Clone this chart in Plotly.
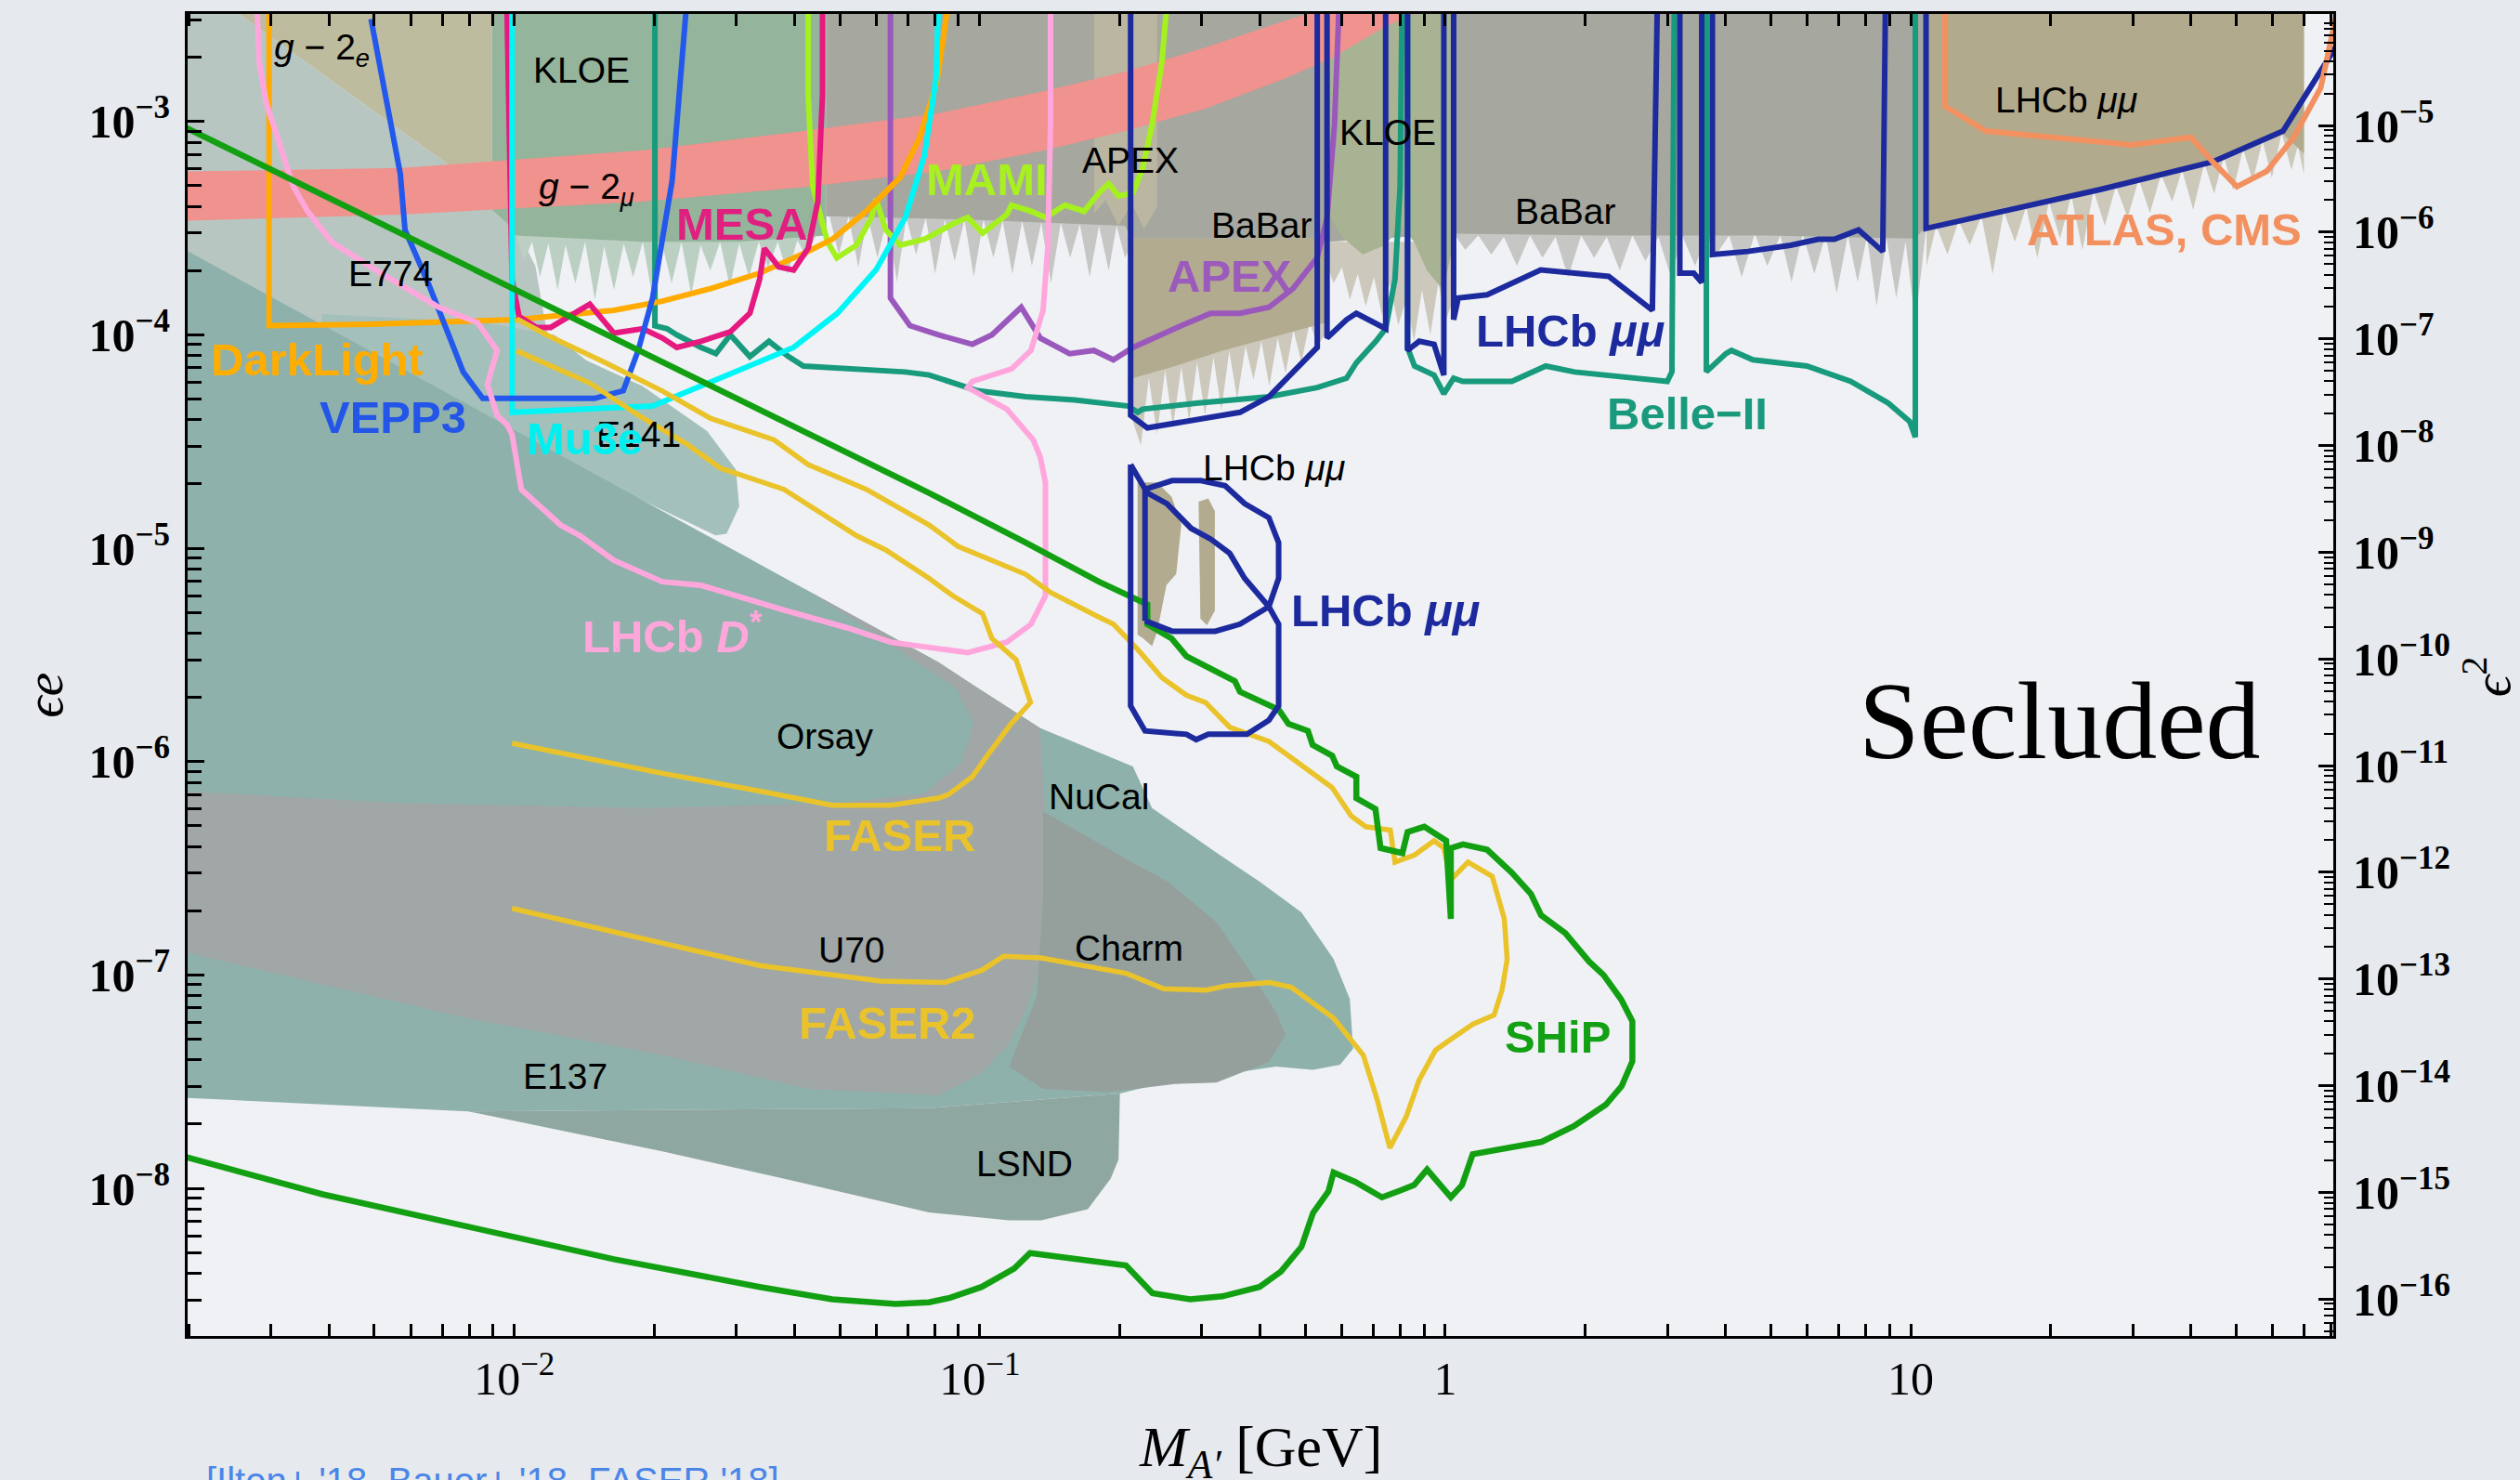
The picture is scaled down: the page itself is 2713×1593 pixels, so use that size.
import numpy as np
import plotly.graph_objects as go

# ---------------------------------------------------------------- geometry
FIG_W, FIG_H = 2713, 1593
X_RANGE = [-2.702, 1.908]            # log10(M_A' / GeV)
Y_RANGE = [-8.692, -2.496]           # log10(eps * e)
LOG10_E = np.log10(np.sqrt(4 * np.pi / 137.036))
Y2_RANGE = [2 * (Y_RANGE[0] - LOG10_E), 2 * (Y_RANGE[1] - LOG10_E)]   # log10(eps^2)

# ------------------------------------------------ excluded regions (log10 m, log10 eps*e)
e774_lm = [-2.75, -2.621, -2.142, -2.007, -1.955, -1.931, -1.914, -2.75]
e774_le = [-2.45, -2.45, -3.203, -3.451, -3.677, -3.977, -4.053, -4.053]

g2e_lm = [-2.621, -2.048, -2.048, -2.142]
g2e_le = [-2.45, -2.45, -3.414, -3.203]

# KLOE: ragged lower edge and solid core
kloe_edge_lm = [-2.048, -2.048, -2.017, -1.997, -1.979, -1.962, -1.945, -1.927, -1.907, -1.890,
                -1.869, -1.848, -1.827, -1.807, -1.786, -1.765, -1.745, -1.724, -1.703, -1.682,
                -1.662, -1.641, -1.620, -1.600, -1.579, -1.558, -1.537, -1.517, -1.496, -1.475,
                -1.455, -1.434, -1.413, -1.392, -1.372, -1.351, -1.330, -1.330]
kloe_edge_le = [-2.45, -3.414, -3.474, -3.534, -3.654, -3.564, -3.729, -3.571, -3.789, -3.579,
                -3.759, -3.564, -3.835, -3.586, -3.789, -3.571, -3.729, -3.564, -3.827, -3.579,
                -3.759, -3.564, -3.812, -3.579, -3.699, -3.564, -3.774, -3.571, -3.729, -3.564,
                -3.684, -3.564, -3.714, -3.556, -3.639, -3.526, -3.489, -2.45]
kloe_core_lm = [-2.048, -2.048, -2.017, -1.997, -1.724, -1.517, -1.330, -1.330]
kloe_core_le = [-2.45, -3.414, -3.474, -3.534, -3.564, -3.564, -3.534, -2.45]

# BaBar: ragged lower edge and solid core
babar_edge_lm = [-1.330, 1.034, 1.034, 1.010, 0.989, 0.969, 0.948, 0.927, 0.906, 0.886, 0.865,
                 0.841, 0.817, 0.793, 0.768, 0.744, 0.720, 0.692, 0.665, 0.637, 0.610, 0.582,
                 0.561, 0.537, 0.509, 0.485, 0.458, 0.430, 0.402, 0.375, 0.347, 0.320, 0.292,
                 0.264, 0.237, 0.209, 0.182, 0.154, 0.126, 0.099, 0.071, 0.043, 0.019, -0.253,
                 -0.671, -0.688, -0.706, -0.723, -0.744, -0.764, -0.785, -0.806, -0.826, -0.847,
                 -0.868, -0.888, -0.909, -0.930, -0.951, -0.971, -0.992, -1.013, -1.033, -1.054,
                 -1.075, -1.096, -1.116, -1.137, -1.158, -1.178, -1.199, -1.220, -1.241, -1.261,
                 -1.282, -1.303, -1.323, -1.330]
babar_edge_le = [-2.45, -2.45, -3.489, -3.940, -3.564, -3.827, -3.549, -3.865, -3.541, -3.752, -3.534,
                 -3.805, -3.534, -3.714, -3.526, -3.752, -3.534, -3.677, -3.526, -3.729, -3.534, -3.624,
                 -3.534, -3.677, -3.534, -3.729, -3.541, -3.654, -3.534, -3.699, -3.541, -3.639, -3.534,
                 -3.729, -3.541, -3.639, -3.534, -3.677, -3.541, -3.624, -3.534, -3.602, -3.526, -3.564,
                 -3.564, -3.639, -3.489, -3.699, -3.489, -3.729, -3.481, -3.639, -3.474, -3.759,
                 -3.474, -3.677, -3.466, -3.714, -3.466, -3.639, -3.459, -3.729, -3.459, -3.654,
                 -3.459, -3.714, -3.451, -3.624, -3.451, -3.752, -3.451, -3.639, -3.444, -3.684,
                 -3.444, -3.624, -3.444, -3.444]
babar_core_lm = [-1.330, 1.034, 1.034, 1.010, 0.692, 0.347, 0.019, -0.253, -0.671, -0.688, -1.033, -1.330]
babar_core_le = [-2.45, -2.45, -3.489, -3.549, -3.534, -3.534, -3.526, -3.564, -3.564, -3.489, -3.459, -3.444]

# ragged tan edge under the phi-region KLOE band
phi_tan_lm = [-0.253, 0.019, 0.019, 0.002, -0.015, -0.032, -0.050, -0.067, -0.084, -0.101,
              -0.119, -0.136, -0.153, -0.171, -0.188, -0.205, -0.222, -0.240, -0.253]
phi_tan_le = [-3.564, -3.564, -3.827, -3.925, -3.759, -4.000, -3.789, -4.030, -3.835, -3.955,
              -3.759, -3.910, -3.729, -3.865, -3.714, -3.835, -3.684, -3.759, -3.677]

kloe2_lm = [-0.253, 0.019, 0.019, -0.005, -0.039, -0.067, -0.095, -0.129, -0.177, -0.222, -0.253]
kloe2_le = [-2.45, -2.45, -3.564, -3.789, -3.699, -3.564, -3.489, -3.579, -3.624, -3.541, -3.429]

# LHCb (dark-photon) tan band between 0.2 and 0.55 GeV
lhcb_tan_a_edge_lm = [-0.671, -0.253, -0.253, -0.274, -0.291, -0.309, -0.326, -0.343, -0.360, -0.378,
                      -0.395, -0.412, -0.429, -0.447, -0.464, -0.481, -0.498, -0.516, -0.533, -0.550,
                      -0.567, -0.585, -0.602, -0.619, -0.637, -0.654, -0.671]
lhcb_tan_a_edge_le = [-3.549, -3.549, -3.977, -4.053, -3.940, -4.128, -3.977, -4.180, -4.015, -4.241,
                      -4.030, -4.211, -4.053, -4.301, -4.075, -4.353, -4.105, -4.376, -4.128, -4.406,
                      -4.150, -4.429, -4.165, -4.466, -4.203, -4.519, -4.406]
lhcb_tan_a_core_lm = [-0.671, -0.253, -0.253, -0.378, -0.481, -0.585, -0.671]
lhcb_tan_a_core_le = [-3.549, -3.549, -3.940, -4.015, -4.075, -4.150, -4.203]

apex_tan_lm = [-0.754, -0.619, -0.619, -0.647, -0.674, -0.702, -0.730, -0.754]
apex_tan_le = [-2.45, -2.45, -3.399, -3.504, -3.384, -3.489, -3.368, -3.429]

# LHCb tan band above 10 GeV
lhcb_tan_b_edge_lm = [1.034, 1.845, 1.845, 1.832, 1.818, 1.797, 1.776, 1.756, 1.735, 1.714, 1.693,
                      1.673, 1.652, 1.631, 1.607, 1.583, 1.562, 1.538, 1.514, 1.490, 1.466, 1.441,
                      1.417, 1.393, 1.369, 1.345, 1.321, 1.297, 1.272, 1.248, 1.224, 1.200, 1.176,
                      1.152, 1.127, 1.103, 1.079, 1.055, 1.034]
lhcb_tan_b_edge_le = [-2.45, -2.45, -3.248, -3.113, -3.226, -3.053, -3.263, -3.090, -3.278, -3.128, -3.323,
                      -3.165, -3.338, -3.195, -3.414, -3.226, -3.376, -3.248, -3.429, -3.271, -3.451, -3.301,
                      -3.489, -3.323, -3.602, -3.346, -3.549, -3.376, -3.639, -3.399, -3.564, -3.421, -3.714,
                      -3.444, -3.579, -3.466, -3.624, -3.489, -3.677]
lhcb_tan_b_core_lm = [1.034, 1.845, 1.845, 1.797, 1.652, 1.417, 1.210, 1.034]
lhcb_tan_b_core_le = [-2.45, -2.45, -3.150, -3.053, -3.188, -3.308, -3.399, -3.489]

e141_lm = [-2.414, -2.069, -1.914, -1.845, -1.724, -1.586, -1.524, -1.517, -1.544, -1.568, -2.414]
e141_le = [-3.902, -3.940, -4.000, -4.120, -4.241, -4.451, -4.632, -4.805, -4.932, -4.940, -4.053]

dump_lm = [-2.75, -1.379, -1.089, -1.016, -0.871, -0.671, -0.630, -0.485, -0.398, -0.309, -0.240,
           -0.205, -0.198, -0.226, -0.284, -0.364, -0.616, -0.699, -1.109, -2.100, -2.75]
dump_le = [-3.550, -5.188, -5.534, -5.639, -5.842, -6.023, -6.218, -6.436, -6.564, -6.707, -6.925,
           -7.113, -7.346, -7.421, -7.444, -7.429, -7.511, -7.556, -7.624, -7.639, -7.571]

u70_lm = [-2.75, -2.242, -1.724, -1.310, -1.120, -1.040, -1.013, -1.051, -1.172, -1.275, -1.379,
          -1.089, -1.016, -0.871, -0.861, -0.861, -0.871, -0.895, -0.937, -0.996, -1.089, -1.368,
          -1.682, -2.100, -2.75]
u70_le = [-6.135, -6.195, -6.218, -6.195, -6.150, -6.008, -5.820, -5.654, -5.481, -5.331, -5.188,
          -5.534, -5.639, -5.842, -6.195, -6.647, -6.947, -7.135, -7.323, -7.459, -7.564, -7.534,
          -7.376, -7.203, -6.872]

charm_lm = [-0.864, -0.671, -0.595, -0.492, -0.423, -0.364, -0.343, -0.378, -0.492, -0.581, -0.723,
            -0.864, -0.937, -0.878, -0.864]
charm_le = [-6.233, -6.474, -6.564, -6.752, -6.970, -7.173, -7.278, -7.406, -7.504, -7.511, -7.549,
            -7.534, -7.429, -7.098, -6.647]

lsnd_lm = [-2.100, -1.682, -1.420, -1.109, -0.937, -0.868, -0.768, -0.719, -0.702, -0.699, -1.109]
lsnd_le = [-7.639, -7.827, -7.955, -8.113, -8.150, -8.150, -8.098, -7.955, -7.865, -7.556, -7.624]

mumu_patch1_lm = [-0.661, -0.619, -0.588, -0.567, -0.578, -0.599, -0.619, -0.630, -0.650, -0.661]
mumu_patch1_le = [-4.692, -4.692, -4.759, -4.887, -5.120, -5.173, -5.391, -5.459, -5.421, -5.406]
mumu_patch2_lm = [-0.530, -0.509, -0.495, -0.495, -0.512, -0.526]
mumu_patch2_le = [-4.782, -4.767, -4.827, -5.293, -5.361, -5.331]

g2mu_lm = [-2.75, -2.242, -1.724, -1.379, -1.089, -0.861, -0.688, -0.516, -0.343, -0.240, -0.136,
           0.002, -0.067, -0.136, -0.240, -0.343, -0.516, -0.688, -0.861, -1.089, -1.379, -1.724,
           -2.242, -2.75]
g2mu_le = [-3.236, -3.218, -3.135, -3.045, -2.962, -2.857, -2.767, -2.654, -2.526, -2.459, -2.40,
           -2.40, -2.496, -2.564, -2.699, -2.797, -2.940, -3.045, -3.135, -3.233, -3.308, -3.376,
           -3.436, -3.468]

# ------------------------------------------------ sensitivity / bound curves
belle2_lm = [-1.698, -1.698, -1.672, -1.651, -1.599, -1.567, -1.536, -1.494, -1.453, -1.411, -1.379,
             -1.265, -1.160, -1.109, -1.047, -1.005, -0.901, -0.796, -0.681, -0.661, -0.650, -0.535,
             -0.379, -0.275, -0.212, -0.191, -0.149, -0.128, -0.108, -0.097, -0.093, -0.081, -0.081,
             -0.066, -0.024, -0.003, 0.018, 0.038, 0.143, 0.216, 0.278, 0.351, 0.477, 0.487, 0.492,
             0.561, 0.561, 0.603, 0.615, 0.661, 0.777, 0.871, 0.952, 0.998, 1.010, 1.010]
belle2_le = [-2.45, -3.957, -3.971, -4.000, -4.059, -4.088, -4.000, -4.102, -4.030, -4.102, -4.146,
             -4.160, -4.174, -4.188, -4.233, -4.262, -4.290, -4.305, -4.334, -4.363, -4.348, -4.320,
             -4.290, -4.247, -4.203, -4.131, -4.030, -3.971, -3.740, -3.305, -2.45, -2.45, -4.059,
             -4.146, -4.189, -4.276, -4.203, -4.218, -4.218, -4.146, -4.174, -4.189, -4.218, -4.174,
             -2.45, -2.45, -4.173, -4.088, -4.073, -4.117, -4.146, -4.218, -4.320, -4.406, -4.479, -2.45]

apex_lm = [-1.192, -1.192, -1.150, -1.089, -1.016, -0.974, -0.911, -0.870, -0.807, -0.755, -0.713,
           -0.671, -0.567, -0.504, -0.441, -0.379, -0.327, -0.275, -0.254, -0.238, -0.228]
apex_le = [-2.45, -3.827, -3.957, -4.000, -4.044, -4.000, -3.871, -4.015, -4.088, -4.073, -4.117,
           -4.059, -3.957, -3.899, -3.899, -3.871, -3.783, -3.638, -3.450, -3.015, -2.45]

mami_lm = [-1.369, -1.369, -1.359, -1.327, -1.307, -1.265, -1.233, -1.223, -1.202, -1.171, -1.119,
           -1.057, -1.026, -0.994, -0.942, -0.932, -0.890, -0.859, -0.817, -0.776, -0.744, -0.723,
           -0.702, -0.671, -0.650, -0.630, -0.609, -0.598]
mami_le = [-2.45, -2.871, -3.305, -3.566, -3.639, -3.580, -3.450, -3.363, -3.508, -3.580, -3.552,
           -3.479, -3.450, -3.523, -3.436, -3.392, -3.421, -3.450, -3.392, -3.421, -3.335, -3.291,
           -3.349, -3.335, -3.218, -3.015, -2.726, -2.45]

darklight_lm = [-2.527, -2.527, -2.308, -1.995, -1.786, -1.682, -1.578, -1.473, -1.369, -1.317,
                -1.244, -1.171, -1.129, -1.092, -1.068]
darklight_le = [-2.45, -3.957, -3.950, -3.929, -3.885, -3.842, -3.783, -3.711, -3.609, -3.552,
                -3.421, -3.262, -3.074, -2.812, -2.45]

mesa_lm = [-2.016, -2.010, -2.005, -1.990, -1.953, -1.922, -1.838, -1.786, -1.724, -1.682, -1.651,
           -1.599, -1.536, -1.494, -1.473, -1.463, -1.432, -1.400, -1.369, -1.348, -1.338, -1.338]
mesa_le = [-2.45, -3.305, -3.740, -3.914, -3.965, -3.965, -3.856, -3.992, -3.971, -4.015, -4.059,
           -4.030, -3.986, -3.899, -3.740, -3.595, -3.682, -3.696, -3.595, -3.377, -2.871, -2.45]

mu3e_lm = [-2.005, -2.005, -1.703, -1.578, -1.400, -1.306, -1.223, -1.160, -1.119, -1.094, -1.089]
mu3e_le = [-2.45, -4.363, -4.334, -4.218, -4.059, -3.899, -3.696, -3.450, -3.160, -2.797, -2.45]

vepp3_lm = [-2.308, -2.277, -2.245, -2.235, -2.183, -2.141, -2.110, -2.068, -1.828, -1.766, -1.734,
            -1.703, -1.682, -1.661, -1.630]
vepp3_le = [-2.52, -2.871, -3.247, -3.508, -3.769, -4.001, -4.174, -4.298, -4.298, -4.262, -4.073,
            -3.827, -3.537, -3.277, -2.45]

dstar_lm = [-2.553, -2.548, -2.533, -2.506, -2.475, -2.444, -2.392, -2.287, -2.162, -2.079, -2.037,
            -2.058, -2.037, -2.016, -2.005, -1.985, -1.901, -1.859, -1.786, -1.682, -1.599, -1.421,
            -1.285, -1.192, -1.089, -1.026, -0.942, -0.890, -0.859, -0.859, -0.870, -0.885, -0.942,
            -1.026, -1.016, -0.932, -0.890, -0.864, -0.854, -0.848, -0.848]
dstar_le = [-2.45, -2.726, -2.914, -3.088, -3.305, -3.421, -3.566, -3.711, -3.871, -3.943, -4.073,
            -4.233, -4.377, -4.421, -4.466, -4.724, -4.891, -4.941, -5.057, -5.157, -5.174, -5.290,
            -5.373, -5.440, -5.473, -5.489, -5.440, -5.356, -5.223, -4.692, -4.574, -4.493, -4.348,
            -4.247, -4.218, -4.160, -4.073, -3.885, -3.594, -3.015, -2.45]

faser_lm = [-2.005, -1.682, -1.473, -1.317, -1.192, -1.089, -1.068, -1.016, -0.984, -0.933, -0.891,
            -0.922, -0.974, -0.994, -1.058, -1.109, -1.202, -1.265, -1.421, -1.557, -1.630, -1.734,
            -1.838, -1.995]
faser_le = [-5.914, -6.055, -6.138, -6.205, -6.205, -6.171, -6.155, -6.071, -5.972, -5.823, -5.723,
            -5.523, -5.423, -5.307, -5.223, -5.141, -5.008, -4.941, -4.724, -4.625, -4.511, -4.376,
            -4.226, -4.075]

faser2_lm = [-2.005, -1.786, -1.473, -1.213, -1.075, -0.995, -0.949, -0.869, -0.777, -0.686, -0.605,
             -0.514, -0.468, -0.377, -0.331, -0.240, -0.176, -0.147, -0.119, -0.084, -0.056, -0.021,
             0.001, 0.059, 0.105, 0.122, 0.133, 0.127, 0.101, 0.049, 0.012, -0.003, -0.024, -0.066,
             -0.108, -0.118, -0.171, -0.202, -0.243, -0.295, -0.379, -0.463, -0.515, -0.556, -0.609,
             -0.661, -0.713, -0.744, -0.848, -0.901, -0.953, -1.047, -1.109, -1.244, -1.369, -1.442,
             -1.578, -1.682, -1.807, -1.931, -1.995]
faser2_le = [-6.688, -6.796, -6.956, -7.029, -7.035, -6.977, -6.912, -6.920, -6.956, -6.992, -7.065,
             -7.071, -7.050, -7.035, -7.057, -7.202, -7.376, -7.579, -7.810, -7.665, -7.492, -7.353,
             -7.318, -7.231, -7.188, -7.071, -6.927, -6.738, -6.538, -6.471, -6.554, -6.405, -6.371,
             -6.438, -6.471, -6.321, -6.305, -6.255, -6.122, -6.038, -5.905, -5.839, -5.723, -5.689,
             -5.606, -5.474, -5.356, -5.323, -5.207, -5.123, -5.074, -4.991, -4.891, -4.724, -4.608,
             -4.492, -4.392, -4.263, -4.128, -4.000, -3.925]

ship_lm = [-2.75, -1.109, -0.901, -0.744, -0.640, -0.640, -0.588, -0.556, -0.452, -0.441, -0.358,
           -0.337, -0.295, -0.285, -0.243, -0.233, -0.191, -0.191, -0.150, -0.139, -0.092, -0.081,
           -0.045, 0.002, 0.012, 0.012, 0.038, 0.090, 0.143, 0.184, 0.206, 0.258, 0.309, 0.340,
           0.378, 0.402, 0.402, 0.379, 0.345, 0.276, 0.207, 0.093, 0.059, 0.036, 0.012, -0.039,
           -0.067, -0.101, -0.136, -0.193, -0.240, -0.251, -0.284, -0.309, -0.353, -0.399, -0.479,
           -0.548, -0.629, -0.686, -0.892, -0.926, -0.996, -1.064, -1.109, -1.181, -1.317, -1.473,
           -1.786, -2.099, -2.412, -2.75]
ship_le = [-2.982, -4.741, -4.974, -5.157, -5.263, -5.356, -5.423, -5.506, -5.623, -5.673, -5.756,
           -5.823, -5.856, -5.922, -5.972, -6.022, -6.071, -6.171, -6.222, -6.405, -6.429, -6.330,
           -6.305, -6.371, -6.737, -6.406, -6.388, -6.413, -6.521, -6.620, -6.720, -6.804, -6.937,
           -7.000, -7.115, -7.217, -7.405, -7.521, -7.608, -7.709, -7.782, -7.825, -7.840, -7.985,
           -8.042, -7.912, -7.985, -8.014, -8.042, -7.970, -7.926, -8.014, -8.115, -8.274, -8.390,
           -8.462, -8.506, -8.520, -8.492, -8.361, -8.303, -8.376, -8.462, -8.513, -8.534, -8.542,
           -8.520, -8.462, -8.332, -8.180, -8.028, -7.827]

lhcb_lm = [-0.676, -0.676, -0.640, -0.441, -0.379, -0.275, -0.275, -0.254, -0.254, -0.212, -0.191,
           -0.128, -0.128, -0.081, -0.081, -0.056, -0.024, -0.003, -0.003, 0.018, 0.018, 0.028,
           0.090, 0.205, 0.351, 0.445, 0.456, 0.504, 0.504, 0.534, 0.551, 0.551, 0.574, 0.574,
           0.650, 0.742, 0.801, 0.836, 0.888, 0.940, 0.946, 1.033, 1.033, 1.405, 1.649, 1.800,
           1.904, 1.950]
lhcb_le = [-2.40, -4.377, -4.436, -4.363, -4.290, -4.059, -2.40, -2.40, -4.015, -3.929, -3.899,
           -3.971, -2.40, -2.40, -4.073, -4.030, -4.044, -4.189, -2.40, -2.40, -3.929, -3.827,
           -3.812, -3.696, -3.726, -3.885, -2.40, -2.40, -3.711, -3.711, -3.754, -2.40, -2.40, -3.624,
           -3.609, -3.580, -3.552, -3.552, -3.508, -3.609, -2.40, -2.40, -3.501, -3.320, -3.189,
           -3.045, -2.683, -2.523]

lhcb_box1_lm = [-0.676, -0.640, -0.598, -0.546, -0.504, -0.463, -0.431, -0.379, -0.358, -0.358,
                -0.379, -0.426, -0.509, -0.535, -0.556, -0.645, -0.676, -0.676]
lhcb_box1_le = [-4.608, -4.741, -4.791, -4.907, -4.957, -5.024, -5.141, -5.274, -5.356, -5.739,
                -5.806, -5.872, -5.872, -5.897, -5.872, -5.856, -5.739, -4.608]
lhcb_box2_lm = [-0.645, -0.645, -0.587, -0.525, -0.473, -0.431, -0.379, -0.358, -0.358, -0.379,
                -0.441, -0.473, -0.494, -0.587, -0.645]
lhcb_box2_le = [-5.340, -4.724, -4.683, -4.683, -4.707, -4.791, -4.857, -4.974, -5.141, -5.274,
                -5.356, -5.373, -5.389, -5.389, -5.340]

atlas_lm = [1.074, 1.074, 1.161, 1.300, 1.475, 1.602, 1.649, 1.701, 1.765, 1.823, 1.881, 1.904, 1.92]
atlas_le = [-2.45, -2.929, -3.045, -3.074, -3.110, -3.074, -3.189, -3.305, -3.233, -3.074, -2.842,
            -2.609, -2.45]

# ------------------------------------------------ text labels (log10 m, log10 eps*e)
plain_labels = [
    ("<i>g</i> − 2<sub><i>e</i></sub>", -2.414, -2.662),
    ("KLOE", -1.855, -2.759),
    ("<i>g</i> − 2<sub><i>μ</i></sub>", -1.845, -3.316),
    ("E774", -2.266, -3.714),
    ("E141", -1.734, -4.468),
    ("APEX", -0.676, -3.182),
    ("BaBar", -0.395, -3.487),
    ("KLOE", -0.123, -3.052),
    ("BaBar", 0.2575, -3.421),
    ("LHCb <i>μμ</i>", 1.335, -2.900),
    ("LHCb <i>μμ</i>", -0.369, -4.625),
    ("Orsay", -1.332, -5.880),
    ("NuCal", -0.744, -6.164),
    ("U70", -1.275, -6.883),
    ("Charm", -0.680, -6.876),
    ("E137", -1.891, -7.477),
    ("LSND", -0.903, -7.883),
]
bold_labels = [
    ("MESA", -1.510, -3.481, "#e01f80"),
    ("DarkLight", -2.423, -4.117, "#ffad00"),
    ("VEPP3", -2.261, -4.385, "#2356e8"),
    ("Mu3e", -1.849, -4.486, "#00f0f0"),
    ("MAMI", -0.985, -3.271, "#a8f01f"),
    ("APEX", -0.463, -3.725, "#9b5bbd"),
    ("LHCb <i>μμ</i>", 0.268, -3.979, "#1c2a9e"),
    ("Belle−II", 0.520, -4.368, "#1a9a7c"),
    ("ATLAS, CMS", 1.544, -3.508, "#f3905f"),
    ("LHCb <i>μμ</i>", -0.128, -5.290, "#1c2a9e"),
    ("LHCb <i>D</i><sup>*</sup>", -1.661, -5.398, "#ffa6da"),
    ("FASER", -1.172, -6.346, "#eac32b"),
    ("FASER2", -1.199, -7.226, "#eac32b"),
    ("SHiP", 0.242, -7.289, "#14a014"),
]

# ------------------------------------------------ figure
fig = go.Figure()


def add_region(lm, le, color):
    fig.add_trace(go.Scatter(
        x=10.0 ** np.asarray(lm), y=10.0 ** np.asarray(le), mode="lines",
        fill="toself", fillcolor=color, line=dict(width=0, color=color),
        hoverinfo="skip", showlegend=False))


def add_curve(lm, le, color, width=6):
    fig.add_trace(go.Scatter(
        x=10.0 ** np.asarray(lm), y=10.0 ** np.asarray(le), mode="lines",
        line=dict(color=color, width=width), hoverinfo="skip", showlegend=False))


add_region(e774_lm, e774_le, "#b8c6c2")
add_region(g2e_lm, g2e_le, "#bdbc9f")
add_region(kloe_edge_lm, kloe_edge_le, "#bccfc3")
add_region(kloe_core_lm, kloe_core_le, "#94b49b")
add_region(babar_edge_lm, babar_edge_le, "#c6c7c4")
add_region(babar_core_lm, babar_core_le, "#a6a79f")
add_region(phi_tan_lm, phi_tan_le, "#ccc8bb")
add_region(kloe2_lm, kloe2_le, "#a8b393")
add_region(lhcb_tan_a_edge_lm, lhcb_tan_a_edge_le, "#ccc8bb")
add_region(lhcb_tan_a_core_lm, lhcb_tan_a_core_le, "#b2ab8f")
add_region(apex_tan_lm, apex_tan_le, "#bab6a1")
add_region(lhcb_tan_b_edge_lm, lhcb_tan_b_edge_le, "#ccc8ba")
add_region(lhcb_tan_b_core_lm, lhcb_tan_b_core_le, "#b2aa8c")
add_region(e141_lm, e141_le, "#a3c0bb")
add_region(dump_lm, dump_le, "#8fb1ab")
add_region(u70_lm, u70_le, "#a1a6a6")
add_region(charm_lm, charm_le, "#95a09d")
add_region(lsnd_lm, lsnd_le, "#8fa7a1")
add_region(mumu_patch1_lm, mumu_patch1_le, "#b2ab8f")
add_region(mumu_patch2_lm, mumu_patch2_le, "#b2ab8f")
add_region(g2mu_lm, g2mu_le, "#f0928e")

add_curve(belle2_lm, belle2_le, "#189a7c")
add_curve(apex_lm, apex_le, "#9a58bd")
add_curve(mami_lm, mami_le, "#a4f11f")
add_curve(darklight_lm, darklight_le, "#ffab00")
add_curve(mesa_lm, mesa_le, "#e5197f")
add_curve(mu3e_lm, mu3e_le, "#00f6f6")
add_curve(vepp3_lm, vepp3_le, "#2358ec")
add_curve(dstar_lm, dstar_le, "#ffa7dd")
add_curve(faser_lm, faser_le, "#eac32b", 5.5)
add_curve(faser2_lm, faser2_le, "#eac32b", 5.5)
add_curve(ship_lm, ship_le, "#12a012", 6.5)
add_curve(lhcb_lm, lhcb_le, "#1c2a9e")
add_curve(lhcb_box1_lm, lhcb_box1_le, "#1c2a9e")
add_curve(lhcb_box2_lm, lhcb_box2_le, "#1c2a9e")
add_curve(atlas_lm, atlas_le, "#f2905f")

# invisible anchor so the eps^2 axis is laid out
fig.add_trace(go.Scatter(x=[1.0], y=[1e-10], yaxis="y2", mode="markers",
                         marker=dict(opacity=0), hoverinfo="skip", showlegend=False))

annotations = []
for text, lx, ly in plain_labels:
    annotations.append(dict(x=lx, y=ly, xref="x", yref="y", text=text, showarrow=False,
                            xanchor="center", yanchor="middle",
                            font=dict(family="Liberation Sans", size=39, color="black")))
for text, lx, ly, col in bold_labels:
    annotations.append(dict(x=lx, y=ly, xref="x", yref="y", text="<b>" + text + "</b>",
                            showarrow=False, xanchor="center", yanchor="middle",
                            font=dict(family="Liberation Sans", size=49, color=col)))
annotations.append(dict(x=1.321, y=-5.812, xref="x", yref="y", text="Secluded", showarrow=False,
                        xanchor="center", yanchor="middle",
                        font=dict(family="Liberation Serif", size=118, color="black")))
# axis titles
annotations.append(dict(x=-0.0667, y=0.485, xref="paper", yref="paper", text="<i>ϵe</i>",
                        textangle=-90, showarrow=False, xanchor="center", yanchor="middle",
                        font=dict(family="Liberation Serif", size=58, color="black")))
annotations.append(dict(x=1.072, y=0.499, xref="paper", yref="paper",
                        text="<i>ϵ</i><sup>2</sup>", textangle=-90, showarrow=False,
                        xanchor="center", yanchor="middle",
                        font=dict(family="Liberation Serif", size=58, color="black")))
annotations.append(dict(x=0.5004, y=-0.087, xref="paper", yref="paper",
                        text="<i>M</i><sub><i>A′</i></sub> [GeV]", showarrow=False,
                        xanchor="center", yanchor="middle",
                        font=dict(family="Liberation Serif", size=62, color="black")))
annotations.append(dict(x=0.0078, y=-0.0926, xref="paper", yref="paper", xanchor="left",
                        yanchor="top", text="[Ilten+ '18, Bauer+ '18, FASER '18]",
                        showarrow=False,
                        font=dict(family="Liberation Sans", size=40, color="#4a86e8")))


def minor_vals(lo, hi):
    return [m * 10.0 ** k for k in range(lo, hi + 1) for m in range(2, 10)]


def pow_text(k):
    return "10<sup>−%d</sup>" % (-k)


tick_common = dict(ticks="inside", tickcolor="black", tickwidth=2.5, showgrid=False,
                   zeroline=False, showline=True, linecolor="black", linewidth=3)

fig.update_layout(
    width=FIG_W, height=FIG_H, autosize=False,
    margin=dict(l=202, r=201, t=13, b=155, pad=0),
    paper_bgcolor="#e6e9ed", plot_bgcolor="#eff1f5",
    showlegend=False, hovermode=False,
    annotations=annotations,
    xaxis=dict(type="log", range=X_RANGE, mirror="allticks", ticklen=13,
               tickmode="array", tickvals=[1e-2, 1e-1, 1, 10],
               ticktext=[pow_text(-2), pow_text(-1), "1", "10"],
               tickfont=dict(family="Liberation Serif", size=50, color="black"),
               minor=dict(ticks="inside", ticklen=13, tickwidth=2.5, tickcolor="black",
                          tickmode="array", tickvals=minor_vals(-3, 1), showgrid=False),
               **tick_common),
    yaxis=dict(type="log", range=Y_RANGE, mirror=False, ticklen=18,
               tickmode="array", tickvals=[10.0 ** k for k in range(-8, -2)],
               ticktext=[pow_text(k) for k in range(-8, -2)],
               tickfont=dict(family="Liberation Serif", size=50, color="black", weight="bold"),
               ticklabelstandoff=6,
               minor=dict(ticks="inside", ticklen=15, tickwidth=2.5, tickcolor="black",
                          tickmode="array", tickvals=minor_vals(-9, -3), showgrid=False),
               **tick_common),
    yaxis2=dict(type="log", range=Y2_RANGE, overlaying="y", side="right", ticklen=16,
                tickmode="array", tickvals=[10.0 ** k for k in range(-16, -4)],
                ticktext=[pow_text(k) for k in range(-16, -4)],
                tickfont=dict(family="Liberation Serif", size=50, color="black", weight="bold"),
                ticklabelstandoff=8,
                minor=dict(ticks="inside", ticklen=10, tickwidth=2, tickcolor="black",
                           tickmode="array", tickvals=minor_vals(-17, -4), showgrid=False),
                **tick_common),
)

fig.write_html("out.html")
